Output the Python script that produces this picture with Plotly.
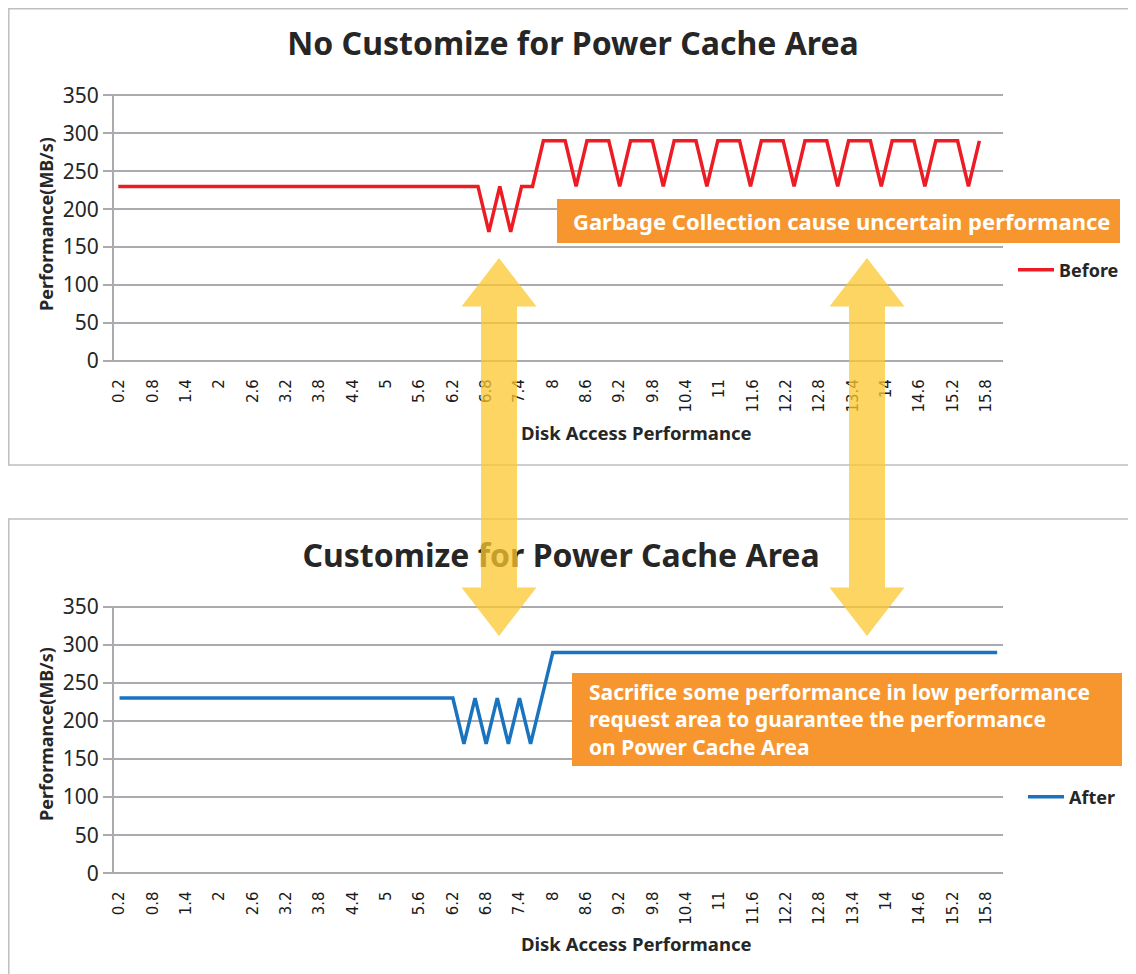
import plotly.graph_objects as go

# ---------------- data ----------------
categories = ["0.2","0.4","0.6","0.8","1","1.2","1.4","1.6","1.8","2",
              "2.2","2.4","2.6","2.8","3","3.2","3.4","3.6","3.8","4",
              "4.2","4.4","4.6","4.8","5","5.2","5.4","5.6","5.8","6",
              "6.2","6.4","6.6","6.8","7","7.2","7.4","7.6","7.8","8",
              "8.2","8.4","8.6","8.8","9","9.2","9.4","9.6","9.8","10",
              "10.2","10.4","10.6","10.8","11","11.2","11.4","11.6","11.8","12",
              "12.2","12.4","12.6","12.8","13","13.2","13.4","13.6","13.8","14",
              "14.2","14.4","14.6","14.8","15","15.2","15.4","15.6","15.8","16"]

tick_labels = ["0.2","0.8","1.4","2","2.6","3.2","3.8","4.4","5","5.6","6.2","6.8","7.4",
               "8","8.6","9.2","9.8","10.4","11","11.6","12.2","12.8","13.4","14","14.6",
               "15.2","15.8"]

before_values = [230]*34 + [170, 230, 170, 230, 230,
                 290, 290, 290, 230, 290, 290, 290, 230, 290, 290, 290, 230,
                 290, 290, 290, 230, 290, 290, 290, 230, 290, 290, 290, 230,
                 290, 290, 290, 230, 290, 290, 290, 230, 290, 290, 290, 230,
                 290, 290, 290, 230, 290]

after_values = [230]*31 + [170, 230, 170, 230, 170, 230, 170, 230] + [290]*41

y_ticks = [0, 50, 100, 150, 200, 250, 300, 350]

top_title = "No Customize for Power Cache Area"
bottom_title = "Customize for Power Cache Area"
y_title = "Performance(MB/s)"
x_title = "Disk Access Performance"
note_top = "Garbage Collection cause uncertain performance"
note_bottom = ("Sacrifice some performance in low performance<br>"
               "request area to guarantee the performance<br>"
               "on Power Cache Area")

# ---------------- layout helpers ----------------
W, H = 1136, 974
OFF = 8  # page offset of the figure (body margin)
def px(x):
    return (x - OFF) / W
def py(y):
    return 1 - (y - OFF) / H

GRID = "#ABABAF"
RED = "#ED1C24"
BLUE = "#1A73BE"
ORANGE = "#F7962F"
ARROW = "rgba(251,199,45,0.75)"
TXT = "#262626"
FONT = "Noto Sans"

PAD = 1.5  # small range padding so edge gridlines are drawn

def ydomain(y0px, y350px):
    k = (y0px - y350px) / 350.0
    return [py(y0px + PAD * k), py(y350px - PAD * k)]

PLOT_L, PLOT_R = 114, 1002.7
XRANGE = [0.1, 16.1]  # numeric range of the top label axis (category value units)
def xval_from_px(p):
    return XRANGE[0] + (p - PLOT_L) / (PLOT_R - PLOT_L) * (XRANGE[1] - XRANGE[0])

fig = go.Figure()

fig.add_trace(go.Scatter(x=categories, y=before_values, mode="lines", name="Before",
                         line=dict(color=RED, width=3.5), xaxis="x", yaxis="y",
                         legend="legend", hoverinfo="skip"))
fig.add_trace(go.Scatter(x=categories, y=after_values, mode="lines", name="After",
                         line=dict(color=BLUE, width=3.5), xaxis="x2", yaxis="y2",
                         legend="legend2", hoverinfo="skip"))
# chart titles as text marks (the bottom one is overlaid by the arrow)
fig.add_trace(go.Scatter(x=[xval_from_px(573)], y=[47], mode="text", text=["<b>" + top_title + "</b>"],
                         textfont=dict(family=FONT, size=32, color=TXT),
                         textposition="middle center", showlegend=False, hoverinfo="skip",
                         cliponaxis=False, xaxis="x3", yaxis="y4"))
fig.add_trace(go.Scatter(x=[561], y=[559], mode="text", text=["<b>" + bottom_title + "</b>"],
                         textfont=dict(family=FONT, size=32, color=TXT),
                         textposition="middle center", showlegend=False, hoverinfo="skip",
                         cliponaxis=False, xaxis="x4", yaxis="y4"))

xdom = [px(PLOT_L), px(PLOT_R)]
tickfont_x = dict(family="DejaVu Sans", size=15, color="#1a1a1a")
ycommon = dict(range=[-PAD, 350 + PAD], tickmode="array", tickvals=y_ticks, showgrid=True,
               gridcolor=GRID, gridwidth=2, showline=True, linecolor=GRID, linewidth=2,
               ticks="outside", ticklen=9, tickwidth=2, tickcolor=GRID, zeroline=False,
               tickfont=dict(family=FONT, size=21, color=TXT), fixedrange=True,
               automargin=False)

fig.update_layout(
    template="none",
    width=W, height=H, autosize=False,
    margin=dict(l=0, r=0, t=0, b=0, pad=0),
    paper_bgcolor="white", plot_bgcolor="rgba(0,0,0,0)",
    showlegend=True,
    # red series axis (hidden)
    xaxis=dict(domain=xdom, anchor="y", type="category", categoryorder="array",
               categoryarray=categories, range=[-0.394, 81.14], visible=False,
               automargin=False, fixedrange=True),
    yaxis=dict(domain=ydomain(361, 95.3), anchor="x", **ycommon),
    # top label axis
    xaxis3=dict(domain=xdom, anchor="y", type="linear", range=XRANGE,
                tickmode="array", tickvals=[float(t) for t in tick_labels], ticktext=tick_labels,
                tickangle=-90, tickfont=tickfont_x, showline=False, showgrid=False,
                zeroline=False, ticks="outside", ticklen=10, tickcolor="rgba(0,0,0,0)",
                automargin=False, fixedrange=True),
    xaxis2=dict(domain=xdom, anchor="y2", type="category", categoryorder="array",
                categoryarray=categories, range=[-0.5, 79.5], tickmode="array",
                tickvals=tick_labels, ticktext=tick_labels, tickangle=-90, tickfont=tickfont_x,
                showline=False, showgrid=False, zeroline=False, ticks="outside", ticklen=10,
                tickcolor="rgba(0,0,0,0)", automargin=False, fixedrange=True),
    yaxis2=dict(domain=ydomain(873.3, 606.7), anchor="x2", **ycommon),
    xaxis4=dict(domain=[0, 1], range=[OFF, W + OFF], visible=False, anchor="y4", automargin=False),
    yaxis4=dict(domain=[0, 1], range=[H + OFF, OFF], visible=False, anchor="x4", automargin=False),
    legend=dict(x=px(1013), y=py(270), xanchor="left", yanchor="middle", itemwidth=36,
                bgcolor="rgba(0,0,0,0)", font=dict(family=FONT, size=18, color=TXT, weight="bold")),
    legend2=dict(x=px(1023), y=py(797), xanchor="left", yanchor="middle", itemwidth=36,
                 bgcolor="rgba(0,0,0,0)", font=dict(family=FONT, size=18, color=TXT, weight="bold")),
)

shapes = []
# panel borders
shapes.append(dict(type="rect", xref="paper", yref="paper", x0=px(8.8), x1=px(1160),
                   y0=py(465), y1=py(8.8), line=dict(color="#BFBFBF", width=1.5), layer="below"))
shapes.append(dict(type="rect", xref="paper", yref="paper", x0=px(8.8), x1=px(1160),
                   y0=py(1000), y1=py(519), line=dict(color="#BFBFBF", width=1.5), layer="below"))
# orange boxes
shapes.append(dict(type="rect", xref="paper", yref="paper", x0=px(557), x1=px(1120),
                   y0=py(243), y1=py(199), fillcolor=ORANGE, line=dict(width=0), layer="above"))
shapes.append(dict(type="rect", xref="paper", yref="paper", x0=px(572), x1=px(1122),
                   y0=py(766), y1=py(673), fillcolor=ORANGE, line=dict(width=0), layer="above"))

def double_arrow(cx, top=258, bot=636, head_half=37.5, shaft_half=18, head_len=48.5):
    pts = [(cx, top), (cx + head_half, top + head_len), (cx + shaft_half, top + head_len),
           (cx + shaft_half, bot - head_len), (cx + head_half, bot - head_len), (cx, bot),
           (cx - head_half, bot - head_len), (cx - shaft_half, bot - head_len),
           (cx - shaft_half, top + head_len), (cx - head_half, top + head_len)]
    path = "M " + " L ".join(f"{px(a):.5f},{py(b):.5f}" for a, b in pts) + " Z"
    return dict(type="path", xref="paper", yref="paper", path=path,
                fillcolor=ARROW, line=dict(width=0), layer="above")

shapes.append(double_arrow(499))
shapes.append(double_arrow(867))
fig.update_layout(shapes=shapes)

ann = []
for yc in (224, 734):
    ann.append(dict(x=px(46), y=py(yc), xref="paper", yref="paper", text="<b>" + y_title + "</b>",
                    textangle=-90, showarrow=False, xanchor="center", yanchor="middle",
                    font=dict(family=FONT, size=18, color=TXT)))
for yc in (432, 943):
    ann.append(dict(x=px(636), y=py(yc), xref="paper", yref="paper", text="<b>" + x_title + "</b>",
                    showarrow=False, xanchor="center", yanchor="middle",
                    font=dict(family=FONT, size=18.5, color=TXT)))
ann.append(dict(x=px(571), y=py(221), xref="paper", yref="paper", text="<b>" + note_top + "</b>",
                showarrow=False, xanchor="left", yanchor="middle",
                font=dict(family=FONT, size=22, color="white")))
ann.append(dict(x=px(587), y=py(719), xref="paper", yref="paper", text="<b>" + note_bottom + "</b>",
                showarrow=False, xanchor="left", yanchor="middle", align="left",
                font=dict(family=FONT, size=21, color="white")))
fig.update_layout(annotations=ann)

fig.write_html("out.html")
